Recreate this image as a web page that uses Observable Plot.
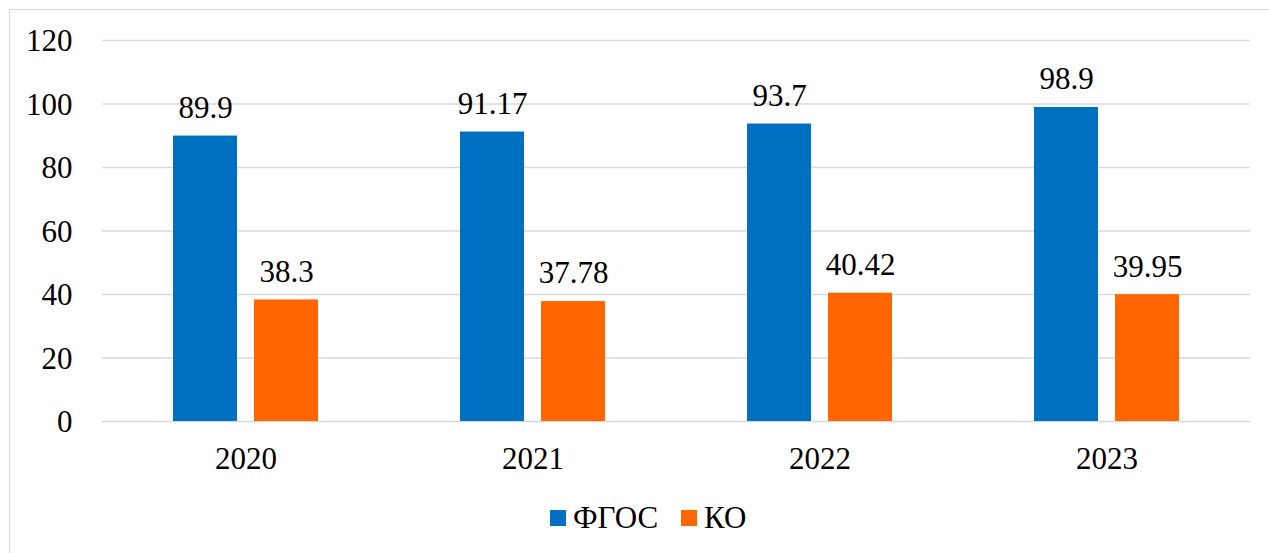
<!DOCTYPE html>
<html><head><meta charset="utf-8">
<script src="https://cdn.jsdelivr.net/npm/d3@7"></script>
<script src="https://cdn.jsdelivr.net/npm/@observablehq/plot@0.6"></script>
<style>
body{margin:0;background:#fff;width:1269px;height:553px;overflow:hidden;position:relative;font-family:'Liberation Serif','Tinos','Times New Roman','DejaVu Serif','Noto Serif',serif;}
#frame{position:absolute;left:9px;top:9px;width:1300px;height:600px;border:1.5px solid #d9d9d9;box-sizing:border-box;}
#chart{position:absolute;left:0;top:0;}
#legend{position:absolute;left:550px;top:502px;display:flex;align-items:center;font-size:31px;color:#000;line-height:32px;}
#legend .sw{width:16px;height:16px;display:inline-block;margin-right:7px;}
#legend .item{display:flex;align-items:center;margin-right:23px;}
</style></head><body>
<div id="frame"></div>
<div id="chart"></div>
<div id="legend"></div>
<script>
const years = ["2020", "2021", "2022", "2023"];
const series = ["ФГОС", "КО"];
const fgos = [89.9, 91.17, 93.7, 98.9];
const ko = [38.3, 37.78, 40.42, 39.95];
const yTicks = [0, 20, 40, 60, 80, 100, 120];
const colors = ["#0070C0", "#FF6600"];

const data = [];
years.forEach((yr, i) => {
  data.push({year: yr, series: series[0], value: fgos[i]});
  data.push({year: yr, series: series[1], value: ko[i]});
});

const font = "'Liberation Serif','Tinos','Times New Roman','DejaVu Serif','Noto Serif',serif";
const chart = Plot.plot({
  width: 1269,
  height: 500,
  marginLeft: 102,
  marginRight: 19,
  marginTop: 40,
  marginBottom: 79,
  style: {fontFamily: font, fontSize: "31px", background: "transparent", color: "#000"},
  fx: {domain: years, padding: 0, label: null},
  x: {domain: series, paddingInner: 0.212, paddingOuter: 0.8625, axis: null},
  y: {domain: [0, 120], label: null},
  color: {domain: series, range: colors},
  marks: [
    Plot.ruleY(yTicks, {stroke: "#d9d9d9", strokeWidth: 1.4}),
    Plot.barY(data, {fx: "year", x: "series", y: "value", fill: "series"}),
    Plot.text(data, {fx: "year", x: "series", y: "value", text: d => String(d.value), dy: -28, fill: "#000", fontSize: 31, fontFamily: font}),
    Plot.axisY(yTicks, {tickSize: 0, tickPadding: 30, label: null, fontSize: 31, dy: 1, fontFamily: font}),
    Plot.axisFx({anchor: "bottom", tickSize: 0, tickPadding: 25, label: null, fontSize: 31, fontFamily: font})
  ]
});
document.getElementById("chart").appendChild(chart);

const leg = document.getElementById("legend");
series.forEach((s, i) => {
  const item = document.createElement("span");
  item.className = "item";
  const sw = document.createElement("span");
  sw.className = "sw";
  sw.style.background = colors[i];
  item.appendChild(sw);
  item.appendChild(document.createTextNode(s));
  leg.appendChild(item);
});
</script>
</body></html>
